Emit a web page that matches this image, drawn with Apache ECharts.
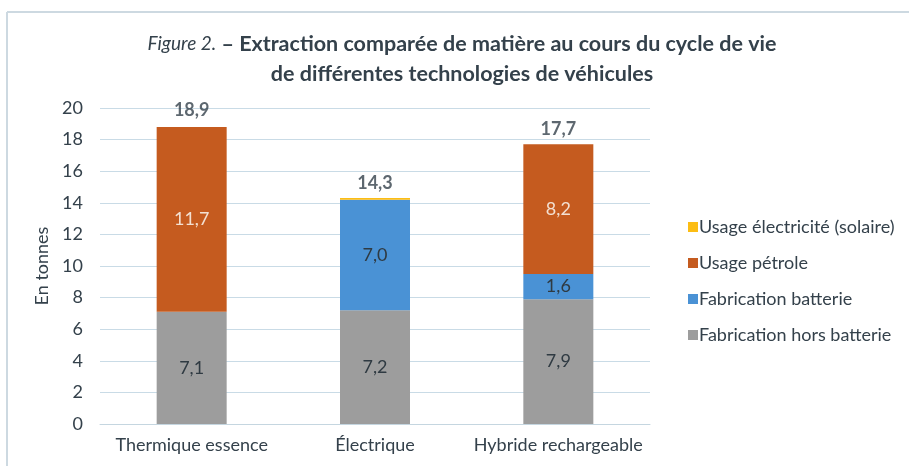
<!DOCTYPE html>
<html>
<head>
<meta charset="utf-8">
<script src="https://cdn.jsdelivr.net/npm/echarts@6/dist/echarts.min.js"></script>
<style>
  html, body { margin: 0; padding: 0; background: #fff; }
  #chart { width: 909px; height: 466px; }
</style>
</head>
<body>
<div id="chart"></div>
<script>
var categories = ['Thermique essence', 'Électrique', 'Hybride rechargeable'];
var horsBatterie = [7.1, 7.2, 7.9];
var batterie = [0, 7.0, 1.6];
var petrole = [11.7, 0, 8.2];
var solaire = [0, 0.1, 0];
var totals = [18.9, 14.3, 17.7];
var yTicks = [0, 2, 4, 6, 8, 10, 12, 14, 16, 18, 20];

var txt = '#34414b';
var font = 'Lato';

function fr(v) { return v.toFixed(1).replace('.', ','); }
function segLabel(color) {
    return {
        show: true,
        position: 'inside',
        color: color,
        fontFamily: font,
        fontSize: 18,
        formatter: function (p) { return p.value > 0.5 ? fr(p.value) : ''; }
    };
}

var myChart = echarts.init(document.getElementById('chart'));

var option = {
    backgroundColor: '#fff',
    animation: false,
    title: {
        text: '{i|Figure 2.} – Extraction comparée de matière au cours du cycle de vie\nde différentes technologies de véhicules',
        left: 457,
        top: 24,
        textAlign: 'center',
        textStyle: {
            fontFamily: font,
            fontSize: 21.5,
            fontWeight: 'bold',
            color: txt,
            lineHeight: 30,
            rich: {
                i: { fontFamily: font, fontSize: 19, fontStyle: 'italic', fontWeight: 'normal', color: txt }
            }
        }
    },
    legend: {
        orient: 'vertical',
        left: 683,
        top: 213,
        itemGap: 18,
        itemWidth: 10,
        itemHeight: 10,
        icon: 'rect',
        textStyle: { fontFamily: font, fontSize: 18, color: txt, padding: [0, 0, 0, -4] },
        data: ['Usage électricité (solaire)', 'Usage pétrole', 'Fabrication batterie', 'Fabrication hors batterie']
    },
    grid: { left: 100, right: 259, top: 108, bottom: 42 },
    xAxis: {
        type: 'category',
        data: categories,
        axisLine: { lineStyle: { color: '#c5d6e0' } },
        axisTick: { show: false },
        axisLabel: { fontFamily: font, fontSize: 18, color: txt, margin: 12, interval: 0 }
    },
    yAxis: {
        type: 'value',
        min: yTicks[0],
        max: yTicks[yTicks.length - 1],
        interval: 2,
        name: 'En tonnes',
        nameLocation: 'middle',
        nameGap: 49,
        nameTextStyle: { fontFamily: font, fontSize: 18, color: txt },
        axisLine: { show: false },
        axisTick: { show: false },
        axisLabel: { fontFamily: font, fontSize: 18, color: txt, margin: 17 },
        splitLine: { lineStyle: { color: '#c9dbe6' } }
    },
    series: [
        {
            name: 'Fabrication hors batterie', type: 'bar', stack: 'total',
            barWidth: 70, data: horsBatterie,
            itemStyle: { color: '#9d9d9d' },
            label: segLabel('#2f3a42')
        },
        {
            name: 'Fabrication batterie', type: 'bar', stack: 'total',
            data: batterie,
            itemStyle: { color: '#4a92d5' },
            label: segLabel('#2f3a42')
        },
        {
            name: 'Usage pétrole', type: 'bar', stack: 'total',
            data: petrole,
            itemStyle: { color: '#c55b1f' },
            label: segLabel('#f3e0d2')
        },
        {
            name: 'Usage électricité (solaire)', type: 'bar', stack: 'total',
            data: solaire,
            itemStyle: { color: '#fcbd14' },
            label: { show: false }
        },
        {
            name: 'Total', type: 'scatter',
            data: totals,
            symbolSize: 2,
            itemStyle: { color: 'rgba(255,255,255,0)' },
            tooltip: { show: false },
            label: {
                show: true, position: 'top', distance: 5,
                fontFamily: font, fontSize: 18, fontWeight: 'bold', color: txt,
                formatter: function (p) { return fr(p.value); }
            }
        }
    ],
    graphic: [
        { type: 'line', shape: { x1: 7, y1: 12, x2: 909, y2: 12 }, style: { stroke: '#cdd9e1', lineWidth: 2 } },
        { type: 'line', shape: { x1: 7, y1: 12, x2: 7, y2: 466 }, style: { stroke: '#cdd9e1', lineWidth: 2 } }
    ]
};

myChart.setOption(option);
</script>
</body>
</html>
